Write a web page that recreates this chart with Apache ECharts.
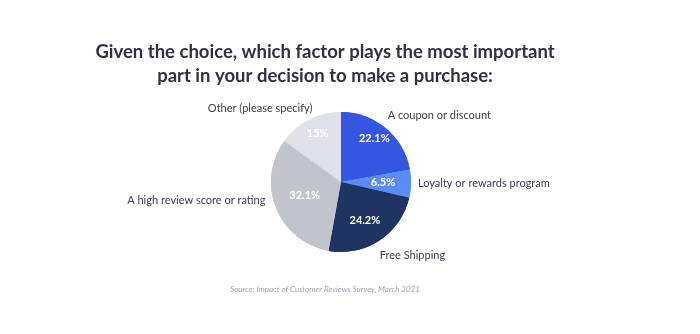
<!DOCTYPE html>
<html><head><meta charset="utf-8">
<script src="https://cdn.jsdelivr.net/npm/echarts@6/dist/echarts.min.js"></script>
<style>html,body{margin:0;padding:0;background:#fff}#c{width:700px;height:334px}</style>
</head><body><div id="c"></div>
<script>
const categories = ["A coupon or discount","Loyalty or rewards program","Free Shipping","A high review score or rating","Other (please specify)"];
const values = [22.1, 6.5, 24.2, 32.1, 15];
const colors = ["#3456e1","#5a8df4","#1f3462","#c2c4cd","#dfe1ea"];
const titleText = "Given the choice, which factor plays the most important\npart in your decision to make a purchase:";
const sourceText = "Source: Impact of Customer Reviews Survey, March 2021";

// label nudges (layout only)
const outerNudge = [[-11,-8],[-8,0],[-12,10],[4,-10],[15,-6]];
const innerNudge = [[9,-14],[4,0],[3,7],[-1,-1],[-6,-15]];

const data = categories.map((c,i)=>({name:c,value:values[i],itemStyle:{color:colors[i]}}));
const chart = echarts.init(document.getElementById('c'));
chart.setOption({
  animation:false,
  title:[{text:titleText,left:320,top:35,textAlign:'center',
    textStyle:{fontFamily:'Lato',fontWeight:'bold',fontSize:18.5,color:'#2c3147',lineHeight:24}},
    {text:sourceText,left:320,top:280,textAlign:'center',
    textStyle:{fontFamily:'Lato',fontStyle:'italic',fontWeight:'normal',fontSize:8,color:'#a0a3ad'}}],
  series:[
    {type:'pie',center:[341,182],radius:[0,70],startAngle:90,clockwise:true,
     data:data,
     label:{show:true,position:'outside',fontFamily:'Lato',fontSize:11,color:'#3b4052',formatter:'{b}'},
     labelLine:{show:false,length:6,length2:4},
     labelLayout:(p)=>({dx:outerNudge[p.dataIndex][0],dy:outerNudge[p.dataIndex][1]}),
     itemStyle:{borderWidth:0}},
    {type:'pie',center:[341,182],radius:[0,70],startAngle:90,clockwise:true,
     data:data,silent:true,
     label:{show:true,position:'inside',fontFamily:'Lato',fontWeight:'bold',fontSize:11,color:'#ffffff',
       formatter:(p)=>p.value+'%'},
     labelLine:{show:false},
     labelLayout:(p)=>({dx:innerNudge[p.dataIndex][0],dy:innerNudge[p.dataIndex][1]}),
     itemStyle:{borderWidth:0}}
  ]
});
</script></body></html>
